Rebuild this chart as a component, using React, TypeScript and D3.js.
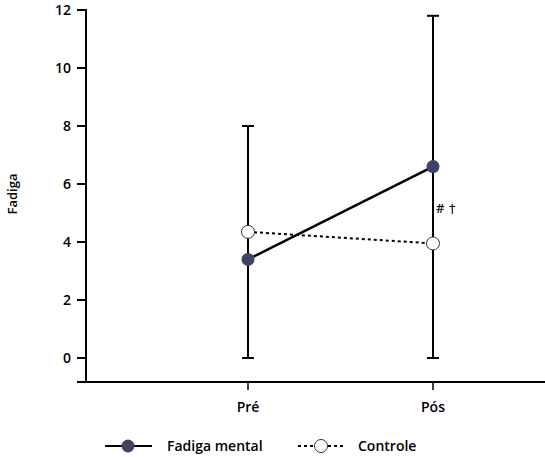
import React from 'react';
import * as d3 from 'd3';

const moments = ['Pré', 'Pós'];
const fadigaMean = [3.4, 6.6];
const fadigaLow = [0, 0];
const fadigaHigh = [8.0, 11.8];
const controleMean = [4.35, 3.95];
const yTicks = [0, 2, 4, 6, 8, 10, 12];

const W = 545, H = 457;
const font = '"Open Sans", Lato, sans-serif';
const navy = '#3d4266';

const App: React.FC = () => {
  const x = d3.scalePoint<string>().domain(moments).range([248, 433]);
  const y = d3.scaleLinear().domain([0, 12]).range([358, 10]);
  const axisX = 86;
  const axisY = y(-0.83);

  const line = d3.line<number>()
    .x((_, i) => x(moments[i])!)
    .y((d) => y(d));

  return (
    <svg width={W} height={H} style={{ position: 'absolute', left: 0, top: 0 }}
         fontFamily={font} fill="#000">
      {/* y axis */}
      <line x1={axisX} x2={axisX} y1={y(12) - 1} y2={axisY} stroke="#000" strokeWidth={2} />
      {yTicks.map((t) => (
        <g key={t}>
          <line x1={axisX - 9} x2={axisX} y1={y(t)} y2={y(t)} stroke="#000" strokeWidth={2} />
          <text x={axisX - 15} y={y(t)} dy="0.35em" textAnchor="end" fontSize={14}
                fontWeight={600}>{t}</text>
        </g>
      ))}
      <text transform={`translate(17,${(y(12) + y(0)) / 2 + 10}) rotate(-90)`} textAnchor="middle"
            fontSize={13} fontWeight={600}>Fadiga</text>

      {/* x axis */}
      <line x1={axisX - 9} x2={W} y1={axisY} y2={axisY} stroke="#000" strokeWidth={2} />
      {moments.map((m) => (
        <g key={m}>
          <line x1={x(m)} x2={x(m)} y1={axisY} y2={axisY + 8} stroke="#000" strokeWidth={1.5} />
          <text x={x(m)} y={axisY + 30} textAnchor="middle" fontSize={14} fontWeight={600}>{m}</text>
        </g>
      ))}

      {/* error bars */}
      {moments.map((m, i) => (
        <g key={m} stroke="#000" strokeWidth={2}>
          <line x1={x(m)} x2={x(m)} y1={y(fadigaHigh[i])} y2={y(fadigaLow[i])} />
          <line x1={x(m)! - 6} x2={x(m)! + 6} y1={y(fadigaHigh[i])} y2={y(fadigaHigh[i])} />
          <line x1={x(m)! - 6} x2={x(m)! + 6} y1={y(fadigaLow[i])} y2={y(fadigaLow[i])} />
        </g>
      ))}

      {/* lines */}
      <path d={line(controleMean)!} fill="none" stroke="#000" strokeWidth={2} strokeDasharray="3,3" />
      <path d={line(fadigaMean)!} fill="none" stroke="#000" strokeWidth={2.5} />

      {/* markers */}
      {moments.map((m, i) => (
        <g key={m}>
          <circle cx={x(m)} cy={y(controleMean[i])} r={6.5} fill="#fff" stroke="#333" strokeWidth={1} />
          <circle cx={x(m)} cy={y(fadigaMean[i])} r={6.5} fill={navy} />
        </g>
      ))}

      <text x={x('Pós')! + 3} y={213} fontSize={13} fontWeight={600} fill="#000">#</text>
      <text x={x('Pós')! + 16} y={213} fontSize={13} fill="#000" fontFamily="'DejaVu Sans', sans-serif">†</text>

      {/* legend */}
      <g>
        <line x1={105} x2={152} y1={446} y2={446} stroke="#000" strokeWidth={2} />
        <circle cx={128} cy={446} r={6.5} fill={navy} />
        <text x={167} y={446} dy="0.35em" fontSize={14} fontWeight={600}>Fadiga mental</text>
        <line x1={298} x2={344} y1={446} y2={446} stroke="#000" strokeWidth={2} strokeDasharray="3,3" />
        <circle cx={321} cy={446} r={6.5} fill="#fff" stroke="#333" strokeWidth={1} />
        <text x={358} y={446} dy="0.35em" fontSize={14} fontWeight={600}>Controle</text>
      </g>
    </svg>
  );
};

export default App;
